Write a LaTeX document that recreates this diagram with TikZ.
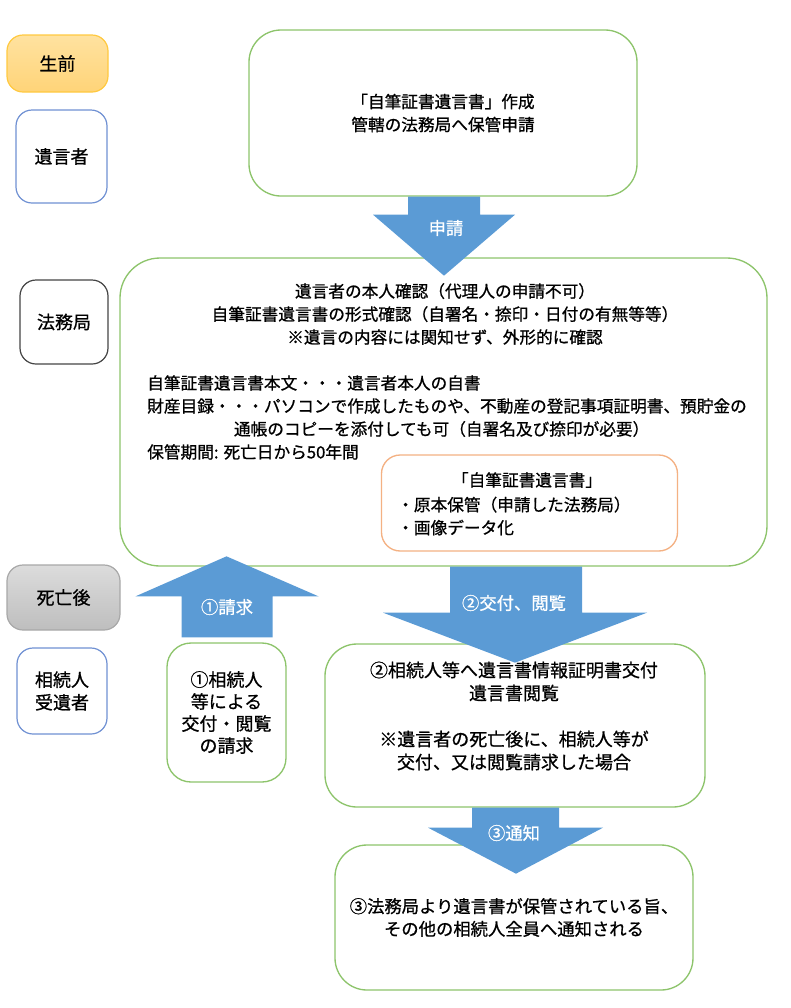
\documentclass[tikz,border=0pt]{standalone}
\usepackage{fontspec}
\setmainfont{Noto Sans CJK JP}[RawFeature={embolden=0.8}]
\usetikzlibrary{calc}

\definecolor{flowblue}{HTML}{5B9BD5}
\definecolor{flowgreen}{HTML}{8DC46B}
\definecolor{sideblue}{HTML}{7091D3}
\definecolor{noteorange}{HTML}{F4B183}
\definecolor{lifeline}{HTML}{FFC940}
\definecolor{deathline}{HTML}{A8A8A8}
\definecolor{officeline}{HTML}{454545}

\begin{document}
\begin{tikzpicture}[x=0.75pt,y=-0.75pt,
  every node/.style={inner sep=0pt},
  greenbox/.style={draw=flowgreen,line width=1pt,fill=white,rounded corners=24pt},
  sidebox/.style={draw=sideblue,line width=0.9pt,fill=white,rounded corners=12pt,
    font=\fontsize{13.5}{17}\selectfont,align=center},
  flowarrow/.style={fill=flowblue},
  arrowtext/.style={text=white,font=\fontsize{13}{16}\selectfont},
  bodytext/.style={font=\fontsize{12.5}{17.25}\selectfont}]
  \useasboundingbox (0,0) rectangle (790,1008);

  % left column
  \node[sidebox,draw=lifeline,top color={rgb,255:red,255;green,226;blue,160},
    bottom color={rgb,255:red,255;green,212;blue,120},
    minimum width=75.75pt,minimum height=42.75pt] (before) at (57.5,63.5) {生前};
  \node[sidebox,minimum width=68.25pt,minimum height=69.75pt] (testator) at (61.5,156.5) {遺言者};
  \node[sidebox,draw=officeline,minimum width=66pt,minimum height=63pt] (bureau) at (64,322) {法務局};
  \node[sidebox,draw=deathline,top color={rgb,255:red,220;green,220;blue,220},
    bottom color={rgb,255:red,190;green,190;blue,190},
    minimum width=84.75pt,minimum height=48.75pt] (after) at (63.5,597.5) {死亡後};
  \node[sidebox,minimum width=67.5pt,minimum height=64.5pt] (heirs) at (62,691) {相続人\\受遺者};

  % boxes
  \node[greenbox,bodytext,align=center,minimum width=291pt,minimum height=124.5pt] (apply) at (443,113)
    {「自筆証書遺言書」作成\\管轄の法務局へ保管申請};
  \node[greenbox,rounded corners=30pt,minimum width=485.25pt,minimum height=231pt] (office) at (443.5,412) {};
  \node[bodytext,align=center] (check) at (445,314)
    {遺言者の本人確認（代理人の申請不可）\\
     自筆証書遺言書の形式確認（自署名・捺印・日付の有無等等）\\
     ※遺言の内容には関知せず、外形的に確認};
  \node[bodytext,align=left,anchor=west] (rules) at (147,417.5)
    {自筆証書遺言書本文・・・遺言者本人の自書\\
     財産目録・・・パソコンで作成したものや、不動産の登記事項証明書、預貯金の\\
     \hspace*{65pt}通帳のコピーを添付しても可（自署名及び捺印が必要）\\
     保管期間: 死亡日から50年間};
  \node[draw=noteorange,line width=1pt,fill=white,rounded corners=14pt,
    minimum width=222pt,minimum height=72pt] (store) at (529.5,503) {};
  \node[bodytext] (storetitle) at (527,480) {「自筆証書遺言書」};
  \node[bodytext,align=left,anchor=west] (storeitems) at (397,516)
    {・原本保管（申請した法務局）\\・画像データ化};

  \node[greenbox,rounded corners=18pt,align=center,font=\fontsize{13.5}{16.5}\selectfont,
    minimum width=89.25pt,minimum height=104.25pt] (request) at (226.5,712.5)
    {①相続人\\等による\\交付・閲覧\\の請求};
  \node[greenbox,minimum width=285pt,minimum height=122.25pt] (issue) at (515,725.5) {};
  \node[align=center,font=\fontsize{13.5}{17.25}\selectfont] (issuetext) at (514,716)
    {②相続人等へ遺言書情報証明書交付\\遺言書閲覧\\[17.25pt]
     ※遺言者の死亡後に、相続人等が\\交付、又は閲覧請求した場合};
  \node[greenbox,align=center,font=\fontsize{13}{17}\selectfont,
    minimum width=268.5pt,minimum height=108.75pt] (notice) at (514,917.5)
    {③法務局より遺言書が保管されている旨、\\その他の相続人全員へ通知される};

  % block arrows
  \fill[flowarrow] ($(apply.south)+(-35,0)$) -- ++(0,18) -- ++(-35,0)
    -- ($(apply.south)+(1,79)$) -- ++(71,-61) -- ++(-35,0) -- ++(0,-18) -- cycle;
  \node[arrowtext] (applylabel) at (446,228) {申請};

  \fill[flowarrow] ($(request.north)+(-45,-5)$) -- ++(0,-41) -- ++(-46,0)
    -- ($(request.north)+(0,-86)$) -- ++(92,40) -- ++(-46,0) -- ++(0,41) -- cycle;
  \node[arrowtext] (requestlabel) at (227,607) {①請求};

  \coordinate (issuetop) at (issue.north |- office.south);
  \fill[flowarrow] ($(issuetop)+(-65,0)$) -- ++(0,46) -- ++(-67,0)
    -- ($(issuetop)+(0,96)$) -- ++(132,-50) -- ++(-65,0) -- ++(0,-46) -- cycle;
  \node[arrowtext] (issuelabel) at (514,603) {②交付、閲覧};

  \fill[flowarrow] ($(issue.south)+(-43,0)$) -- ++(0,20) -- ++(-44,0)
    -- ($(issue.south)+(1,66)$) -- ++(87,-46) -- ++(-44,0) -- ++(0,-20) -- cycle;
  \node[arrowtext] (noticelabel) at (514,833) {③通知};
\end{tikzpicture}
\end{document}
